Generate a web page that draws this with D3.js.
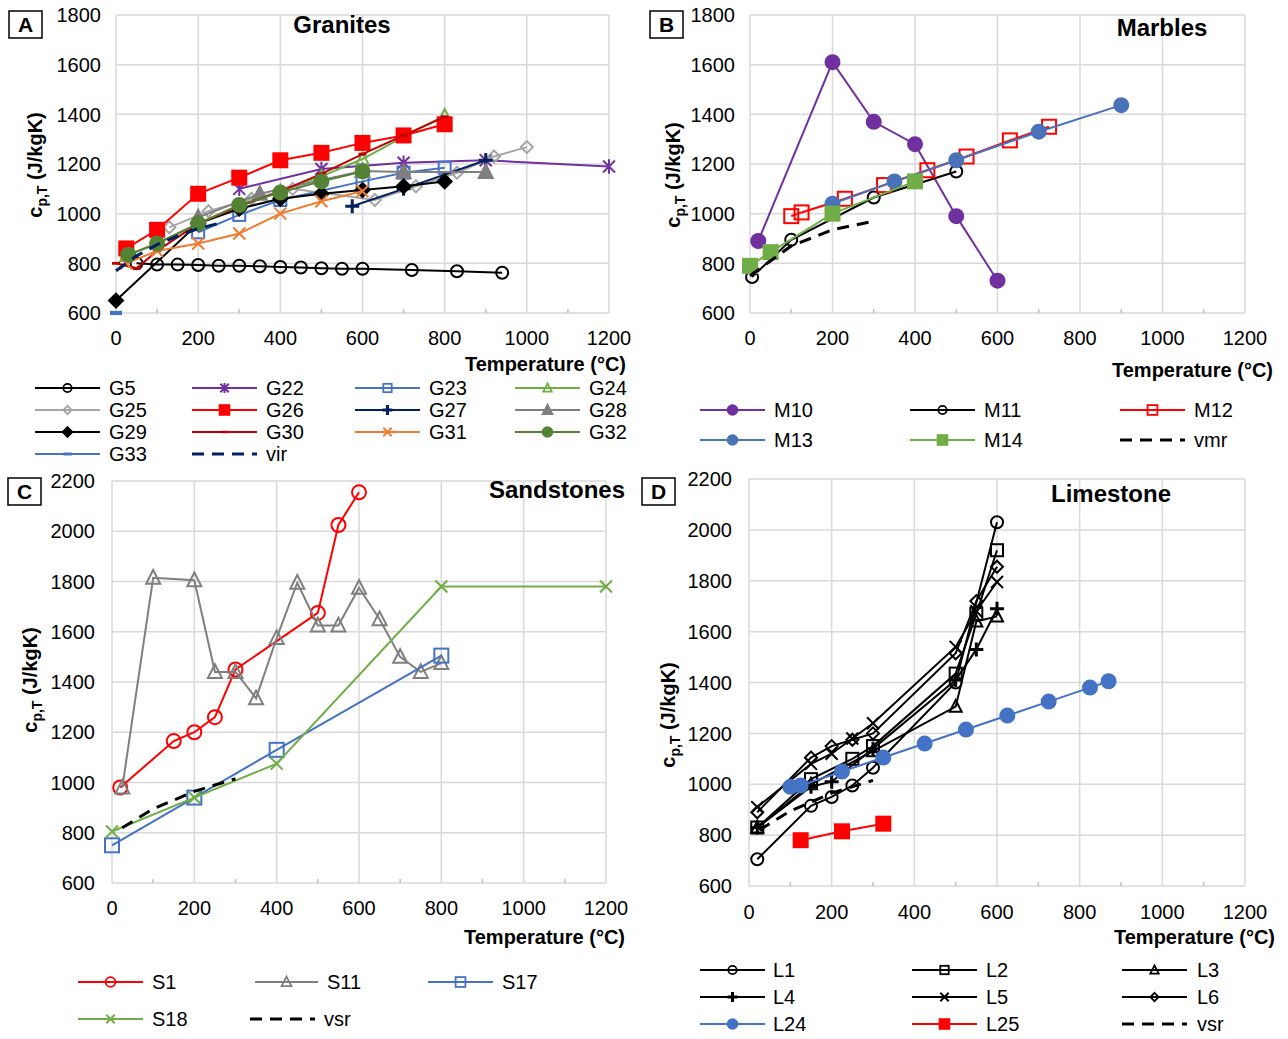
<!DOCTYPE html>
<html><head><meta charset="utf-8">
<script src="https://cdn.jsdelivr.net/npm/d3@7"></script>
<style>body{margin:0;background:#fff} text{font-family:"Liberation Sans",Arial,sans-serif;fill:#000}</style>
</head><body>
<svg id="c" width="1288" height="1039"></svg>
<script>
// ---------- tick labels ----------
const xTicks=[0,200,400,600,800,1000,1200];
const yTicksAB=[600,800,1000,1200,1400,1600,1800];
const yTicksCD=[600,800,1000,1200,1400,1600,1800,2000,2200];
// ---------- A: Granites ----------
const G5=[[50,800],[100,795],[150,795],[200,793],[250,790],[300,790],[350,788],[400,785],[450,783],[500,780],[550,778],[600,778],[720,773],[830,768],[940,762]];
const G22=[[300,1100],[500,1180],[700,1205],[900,1215],[1200,1190]];
const G23=[[200,925],[300,995],[400,1055],[600,1130],[700,1165],[800,1185]];
const G24=[[25,830],[100,880],[200,960],[300,1030],[400,1090],[500,1150],[600,1220],[700,1310],[800,1395]];
const G25=[[130,945],[225,1010],[330,1060],[430,1100],[630,1055],[730,1110],[830,1165],[920,1230],[1000,1268]];
const G26=[[25,860],[100,935],[200,1080],[300,1145],[400,1215],[500,1245],[600,1285],[700,1315],[800,1360]];
const G27=[[575,1030],[700,1100],[900,1215]];
const G28=[[200,985],[350,1080],[600,1172],[700,1168],[900,1168]];
const G29=[[0,650],[200,960],[300,1020],[400,1060],[500,1080],[600,1095],[700,1110],[800,1130]];
const G30=[[0,800],[50,780],[100,850],[200,960],[300,1030],[400,1090],[500,1160],[600,1240],[700,1315],[800,1390]];
const G31=[[25,800],[100,850],[200,880],[300,920],[400,1000],[500,1050],[600,1090]];
const G32=[[30,835],[100,880],[200,960],[300,1035],[400,1085],[500,1130],[600,1170]];
const G33=[[0,600]];
const vir=[[0,770],[50,830],[100,875],[150,910],[200,940],[260,965]];
// ---------- B: Marbles ----------
const M10=[[20,890],[200,1610],[300,1370],[400,1280],[500,990],[600,730]];
const M11=[[5,745],[100,895],[300,1065],[500,1170]];
const M12=[[100,990],[125,1005],[230,1060],[325,1115],[430,1175],[525,1230],[630,1295],[725,1350]];
const M13=[[200,1040],[350,1130],[500,1215],[700,1330],[900,1437]];
const M14=[[0,790],[50,845],[200,1000],[400,1130]];
const vmr=[[0,750],[100,870],[200,935],[300,970]];
// ---------- C: Sandstones ----------
const S1=[[20,980],[150,1165],[200,1200],[250,1260],[300,1450],[500,1675],[550,2025],[600,2155]];
const S11=[[25,980],[100,1815],[200,1805],[250,1440],[300,1440],[350,1335],[400,1575],[450,1795],[500,1625],[550,1625],[600,1775],[650,1650],[700,1500],[750,1440],[800,1475]];
const S17=[[0,750],[200,940],[400,1130],[800,1505]];
const S18=[[0,805],[200,940],[400,1075],[800,1780],[1200,1780]];
const vsr=[[25,820],[100,895],[200,965],[300,1015]];
// ---------- D: Limestone ----------
const L1=[[20,705],[150,915],[200,950],[250,995],[300,1065],[500,1400],[600,2030]];
const L2=[[20,830],[150,1020],[250,1100],[300,1150],[500,1435],[550,1670],[600,1920]];
const L3=[[20,830],[150,1000],[300,1130],[500,1305],[550,1640],[600,1660]];
const L4=[[20,830],[150,990],[200,1010],[300,1140],[500,1410],[550,1530],[600,1690]];
const L5=[[20,910],[150,1080],[200,1120],[250,1180],[300,1240],[500,1540],[550,1680],[600,1795]];
const L6=[[20,890],[150,1105],[200,1150],[250,1175],[300,1200],[500,1515],[550,1720],[600,1855]];
const L24=[[100,990],[125,995],[225,1050],[325,1105],[425,1160],[525,1215],[625,1270],[725,1325],[825,1380],[870,1405]];
const L25=[[125,780],[225,815],[325,845]];

const C={purple:"#7030a0",blue:"#4472c4",lgreen:"#70ad47",gray:"#a5a5a5",red:"#ff0000",navy:"#002060",dgray:"#7f7f7f",dred:"#c00000",orange:"#ed7d31",dgreen:"#548235",black:"#000",mblue:"#4a72b8"};
const svg=d3.select("#c");
const FS=20;

function marker(g,type,x,y,s,color,filled,sw){
  const m=g.append("g").attr("transform",`translate(${x},${y})`);
  const st=(sel)=>sel.attr("stroke",color).attr("stroke-width",sw||2).attr("fill",filled?color:"none");
  if(type==="circle") st(m.append("circle").attr("r",s));
  else if(type==="square") st(m.append("rect").attr("x",-s).attr("y",-s).attr("width",2*s).attr("height",2*s));
  else if(type==="triangle") st(m.append("path").attr("d",`M0,${-s*1.1}L${s},${s*0.85}L${-s},${s*0.85}Z`));
  else if(type==="diamond") st(m.append("path").attr("d",`M0,${-s}L${s},0L0,${s}L${-s},0Z`));
  else if(type==="plus") m.append("path").attr("d",`M${-s},0H${s}M0,${-s}V${s}`).attr("stroke",color).attr("stroke-width",3).attr("fill","none");
  else if(type==="x") m.append("path").attr("d",`M${-s},${-s}L${s},${s}M${-s},${s}L${s},${-s}`).attr("stroke",color).attr("stroke-width",2).attr("fill","none");
  else if(type==="star") m.append("path").attr("d",`M${-s},${-s}L${s},${s}M${-s},${s}L${s},${-s}M0,${-s*1.2}V${s*1.2}`).attr("stroke",color).attr("stroke-width",2).attr("fill","none");
  else if(type==="dash") m.append("rect").attr("x",-s).attr("y",-s*0.35).attr("width",2*s).attr("height",s*0.7).attr("fill",color);
}

function panel(p){
  const x=d3.scaleLinear().domain([0,1200]).range([p.x0,p.x1]);
  const y=d3.scaleLinear().domain([p.yTicks[0],p.yTicks[p.yTicks.length-1]]).range([p.yb,p.yt]);
  const g=svg.append("g");
  g.selectAll(null).data(p.yTicks).enter().append("line")
    .attr("x1",p.x0).attr("x2",p.x1).attr("y1",d=>y(d)).attr("y2",d=>y(d)).attr("stroke","#d9d9d9").attr("stroke-width",1.5);
  g.selectAll(null).data(xTicks).enter().append("line")
    .attr("x1",d=>x(d)).attr("x2",d=>x(d)).attr("y1",p.yt).attr("y2",p.yb).attr("stroke","#d9d9d9").attr("stroke-width",1.5);
  g.selectAll(null).data(d3.range(100,1200,200)).enter().append("line")
    .attr("x1",d=>x(d)).attr("x2",d=>x(d)).attr("y1",p.yb-4).attr("y2",p.yb).attr("stroke","#bfbfbf").attr("stroke-width",1.5);
  g.selectAll(null).data(p.yTicks).enter().append("text")
    .attr("x",p.x0-p.ylOff).attr("y",d=>y(d)).attr("dy","0.36em").attr("text-anchor","end").attr("font-size",FS).text(d=>d);
  g.selectAll(null).data(xTicks).enter().append("text")
    .attr("x",d=>x(d)).attr("y",p.yb+p.xlOff).attr("text-anchor","middle").attr("font-size",FS).text(d=>d);
  const line=d3.line().x(d=>x(d[0])).y(d=>y(d[1]));
  p.series.forEach(s=>{
    g.append("path").datum(s.data).attr("d",line).attr("fill","none").attr("stroke",s.color)
      .attr("stroke-width",s.w||2).attr("stroke-dasharray",s.dash||null);
    if(s.m) s.data.forEach(d=>marker(g,s.m,x(d[0]),y(d[1]),s.s||6,s.color,s.f,s.sw));
  });
  g.append("text").attr("x",p.tx).attr("y",p.ty).attr("text-anchor","middle").attr("font-size",24).attr("font-weight","bold").text(p.title);
  g.append("text").attr("x",p.xtx).attr("y",p.xty).attr("text-anchor","end").attr("font-size",20).attr("font-weight","bold").text("Temperature (°C)");
  const yl=g.append("text").attr("transform",`translate(${p.ytx},${p.yty}) rotate(-90)`).attr("text-anchor","middle").attr("font-size",20).attr("font-weight","bold");
  yl.append("tspan").text("c");
  yl.append("tspan").attr("font-size",14).attr("dy",5).text("p,T");
  yl.append("tspan").attr("dy",-5).text(" (J/kgK)");
  g.append("rect").attr("x",p.lx).attr("y",p.ly).attr("width",33).attr("height",27).attr("fill","#fff").attr("stroke","#000").attr("stroke-width",1.5);
  g.append("text").attr("x",p.lx+16.5).attr("y",p.ly+21).attr("text-anchor","middle").attr("font-size",21).attr("font-weight","bold").text(p.letter);
  p.legend.forEach(it=>{
    const s=p.series.find(q=>q.name===it.name);
    const lx=it.x, ly=it.y, len=it.len||65;
    g.append("line").attr("x1",lx).attr("x2",lx+len).attr("y1",ly).attr("y2",ly).attr("stroke",s.color)
      .attr("stroke-width",s.dash?3:(s.w||2)).attr("stroke-dasharray",s.dash?"12,8":null);
    if(s.m) marker(g,s.m,lx+len/2,ly,Math.max(3.5,(s.s||6)*0.7),s.color,s.f,1.8);
    g.append("text").attr("x",lx+len+(it.gap||9)).attr("y",ly).attr("dy","0.36em").attr("font-size",FS).text(s.name);
  });
}

function grid(cols,rows,names,len,gaps){
  const out=[];names.forEach((n,i)=>{const c=i%cols.length,r=Math.floor(i/cols.length);out.push({name:n,x:cols[c],y:rows[r],len:len,gap:gaps?gaps[c]:9});});return out;
}

panel({letter:"A",lx:9,ly:11,title:"Granites",tx:342,ty:33,x0:116,x1:609,yt:15,yb:313,yTicks:yTicksAB,ylOff:15,xlOff:32,
  xtx:626,xty:371,ytx:42,yty:165,
  series:[
    {name:"G5",data:G5,color:C.black,m:"circle",s:6},
    {name:"G22",data:G22,color:C.purple,m:"star",s:6},
    {name:"G23",data:G23,color:C.blue,m:"square",s:6},
    {name:"G24",data:G24,color:C.lgreen,m:"triangle",s:6},
    {name:"G25",data:G25,color:C.gray,m:"diamond",s:6},
    {name:"G26",data:G26,color:C.red,m:"square",s:7,f:true},
    {name:"G27",data:G27,color:C.navy,m:"plus",s:7},
    {name:"G28",data:G28,color:C.dgray,m:"triangle",s:7,f:true},
    {name:"G29",data:G29,color:C.black,m:"diamond",s:7,f:true},
    {name:"G30",data:G30,color:C.dred,m:"dash",s:4},
    {name:"G31",data:G31,color:C.orange,m:"x",s:6},
    {name:"G32",data:G32,color:C.dgreen,m:"circle",s:7,f:true},
    {name:"G33",data:G33,color:C.blue,m:"dash",s:6},
    {name:"vir",data:vir,color:C.navy,w:3,dash:"12,8"}
  ],
  legend:grid([35,192,355,515],[388,410,432,454],["G5","G22","G23","G24","G25","G26","G27","G28","G29","G30","G31","G32","G33","vir"],65)
});

panel({letter:"B",lx:650,ly:11,title:"Marbles",tx:1162,ty:36,x0:750,x1:1245,yt:15,yb:313,yTicks:yTicksAB,ylOff:15,xlOff:32,
  xtx:1273,xty:377,ytx:680,yty:175,
  series:[
    {name:"M10",data:M10,color:C.purple,m:"circle",s:7,f:true},
    {name:"M11",data:M11,color:C.black,m:"circle",s:6},
    {name:"M12",data:M12,color:C.red,m:"square",s:7},
    {name:"M13",data:M13,color:C.mblue,m:"circle",s:7,f:true},
    {name:"M14",data:M14,color:C.lgreen,m:"square",s:7,f:true},
    {name:"vmr",data:vmr,color:C.black,w:3,dash:"12,8"}
  ],
  legend:grid([700,910,1120],[410,440],["M10","M11","M12","M13","M14","vmr"],65)
});

panel({letter:"C",lx:8,ly:478,title:"Sandstones",tx:557,ty:498,x0:112,x1:606,yt:481,yb:883,yTicks:yTicksCD,ylOff:17,xlOff:32,
  xtx:625,xty:944,ytx:37,yty:680,
  series:[
    {name:"S1",data:S1,color:C.red,m:"circle",s:7},
    {name:"S11",data:S11,color:C.dgray,m:"triangle",s:7},
    {name:"S17",data:S17,color:C.blue,m:"square",s:7},
    {name:"S18",data:S18,color:C.lgreen,m:"x",s:6},
    {name:"vsr",data:vsr,color:C.black,w:3,dash:"12,8"}
  ],
  legend:[{name:"S1",x:78,y:982,len:65},{name:"S11",x:255,y:982,len:63},{name:"S17",x:428,y:982,len:65},
          {name:"S18",x:78,y:1019,len:65},{name:"vsr",x:250,y:1019,len:65}]
});

panel({letter:"D",lx:642,ly:478,title:"Limestone",tx:1111,ty:502,x0:749,x1:1245,yt:479,yb:886,yTicks:yTicksCD,ylOff:17,xlOff:33,
  xtx:1275,xty:944,ytx:675,yty:715,
  series:[
    {name:"L1",data:L1,color:C.black,m:"circle",s:6},
    {name:"L2",data:L2,color:C.black,m:"square",s:6},
    {name:"L3",data:L3,color:C.black,m:"triangle",s:6},
    {name:"L4",data:L4,color:C.black,m:"plus",s:7},
    {name:"L5",data:L5,color:C.black,m:"x",s:6},
    {name:"L6",data:L6,color:C.black,m:"diamond",s:6},
    {name:"L24",data:L24,color:C.blue,m:"circle",s:7,f:true},
    {name:"L25",data:L25,color:C.red,m:"square",s:7,f:true},
    {name:"vsr",data:vsr,color:C.black,w:3,dash:"12,8"}
  ],
  legend:grid([700,912,1122],[970,997,1024],["L1","L2","L3","L4","L5","L6","L24","L25","vsr"],65,[8,9,10])
});
</script>
</body></html>
